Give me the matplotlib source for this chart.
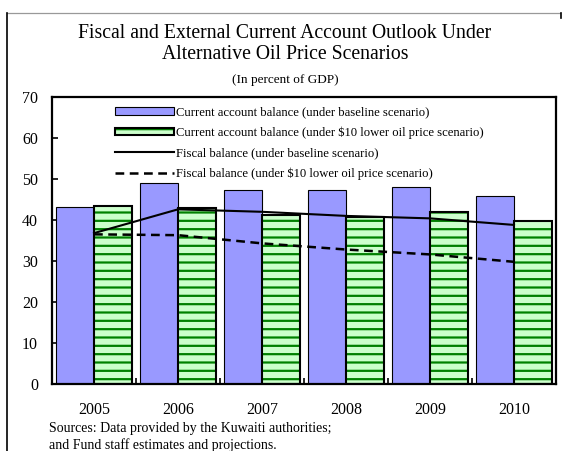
import matplotlib
matplotlib.use("Agg")
import matplotlib.pyplot as plt
from matplotlib.lines import Line2D
from matplotlib.legend_handler import HandlerTuple
import numpy as np

plt.rcParams["font.family"] = ["Liberation Serif", "DejaVu Serif"]
plt.rcParams["hatch.linewidth"] = 1.6

years = ["2005", "2006", "2007", "2008", "2009", "2010"]
ca_baseline = [43.2, 49.0, 47.3, 47.2, 48.0, 45.9]
ca_lower_oil = [43.3, 42.9, 41.2, 40.8, 41.9, 39.8]
fiscal_baseline = [36.8, 42.6, 42.0, 41.0, 40.4, 38.8]
fiscal_lower_oil = [36.5, 36.3, 34.3, 32.8, 31.6, 29.8]

BLUE = "#9999ff"
LIGHT_GREEN = "#ccffcc"
DARK_GREEN = "#008000"

W, H = 564, 451
fig = plt.figure(figsize=(W / 100, H / 100), dpi=100)
fig.patch.set_facecolor("white")

# plot area in pixel terms, converted to figure fractions
left, right, top, bottom = 52, 556, 97, 384
ax = fig.add_axes([left / W, 1 - bottom / H, (right - left) / W, (bottom - top) / H])

x = np.arange(len(years))
bw = 0.45

blue = ax.bar(x - bw / 2, ca_baseline, bw, color=BLUE, edgecolor="black",
              linewidth=0.8, zorder=2)
green_fill = ax.bar(x + bw / 2, ca_lower_oil, bw, color=LIGHT_GREEN,
                    edgecolor=DARK_GREEN, hatch="--", linewidth=0, zorder=2)
green_edge = ax.bar(x + bw / 2, ca_lower_oil, bw, fill=False,
                    edgecolor="black", linewidth=1.5, zorder=3)

fb, = ax.plot(x, fiscal_baseline, color="black", linewidth=1.5, zorder=4)
fl, = ax.plot(x, fiscal_lower_oil, color="black", linewidth=1.8,
              dashes=(3.5, 2.2), zorder=4)

ax.set_xlim(-0.5, len(years) - 0.5)
ax.set_ylim(0, 70)
ax.set_yticks(range(0, 71, 10))
ax.set_xticks(x)
ax.set_xticklabels(years)
ax.set_xticks(x[:-1] + 0.5, minor=True)

ax.tick_params(axis="y", direction="in", length=4, width=1.2,
               labelsize=11.5, pad=10)
ax.tick_params(axis="x", which="major", length=0, labelsize=11.5, pad=13)
ax.tick_params(axis="x", which="minor", direction="in", length=4.5, width=1.2)
for s in ax.spines.values():
    s.set_linewidth(1.6)

handles = [blue, (green_fill, green_edge), fb, fl]
labels = [
    "Current account balance (under baseline scenario)",
    "Current account balance (under $10 lower oil price scenario)",
    "Fiscal balance (under baseline scenario)",
    "Fiscal balance (under $10 lower oil price scenario)",
]
fig.legend(handles, labels, loc="upper left",
           bbox_to_anchor=(115 / W, 1 - 106.5 / H),
           bbox_transform=fig.transFigure,
           handler_map={tuple: HandlerTuple(ndivide=1, pad=0)},
           frameon=False, fontsize=9.1, borderpad=0, borderaxespad=0,
           handlelength=4.7, handleheight=0.55, handletextpad=0.15,
           labelspacing=0.64)

# titles
fig.text(285 / W, 1 - 38 / H, "Fiscal and External Current Account Outlook Under",
         ha="center", va="baseline", fontsize=14.2)
fig.text(285 / W, 1 - 59 / H, "Alternative Oil Price Scenarios",
         ha="center", va="baseline", fontsize=14.2)
fig.text(285 / W, 1 - 83 / H, "(In percent of GDP)",
         ha="center", va="baseline", fontsize=9.5)

# source note
fig.text(49 / W, 1 - 432 / H,
         "Sources: Data provided by the Kuwaiti authorities;",
         ha="left", va="baseline", fontsize=10)
fig.text(49 / W, 1 - 449 / H,
         "and Fund staff estimates and projections.",
         ha="left", va="baseline", fontsize=10)

# surrounding box lines
fig.add_artist(Line2D([7 / W, 560 / W], [1 - 13 / H, 1 - 13 / H],
                      color="#999999", linewidth=0.9))
fig.add_artist(Line2D([7 / W, 7 / W], [1 - 13 / H, 0],
                      color="black", linewidth=1.2))
fig.add_artist(Line2D([561 / W, 561 / W], [1 - 13 / H, 1 - 18 / H],
                      color="black", linewidth=1.2))

fig.savefig("out.png", dpi=100)
